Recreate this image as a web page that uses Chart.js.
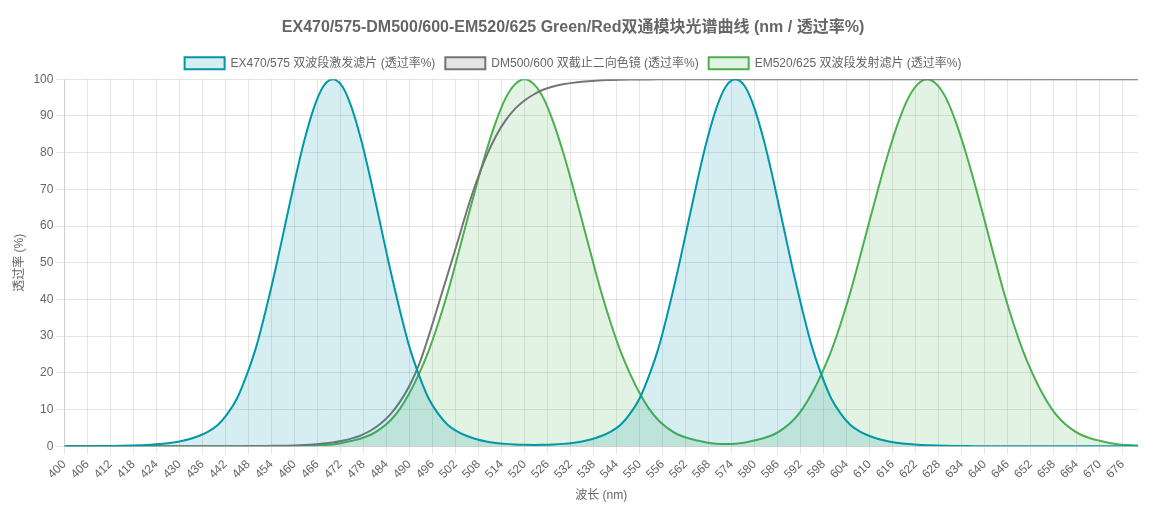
<!DOCTYPE html>
<html>
<head>
<meta charset="utf-8">
<script src="https://cdn.jsdelivr.net/npm/chart.js@4.4.1/dist/chart.umd.min.js"></script>
<style>
html,body{margin:0;padding:0;background:#fff;}
#wrap{width:1158px;height:520px;}
</style>
</head>
<body>
<div id="wrap"><canvas id="c" width="1158" height="520"></canvas></div>
<script>
// Wavelengths (nm)
const wavelengths = [
  400,402.5,405,407.5,410,412.5,415,417.5,420,422.5,
  425,427.5,430,432.5,435,437.5,440,442.5,445,447.5,
  450,452.5,455,457.5,460,462.5,465,467.5,470,472.5,
  475,477.5,480,482.5,485,487.5,490,492.5,495,497.5,
  500,502.5,505,507.5,510,512.5,515,517.5,520,522.5,
  525,527.5,530,532.5,535,537.5,540,542.5,545,547.5,
  550,552.5,555,557.5,560,562.5,565,567.5,570,572.5,
  575,577.5,580,582.5,585,587.5,590,592.5,595,597.5,
  600,602.5,605,607.5,610,612.5,615,617.5,620,622.5,
  625,627.5,630,632.5,635,637.5,640,642.5,645,647.5,
  650,652.5,655,657.5,660,662.5,665,667.5,670,672.5,
  675,677.5,680
];

// EX470/575 excitation filter transmission (%)
const exValues = [
  0,0.01,0.02,0.03,0.05,0.08,0.12,0.18,0.28,0.41,
  0.6,0.88,1.3,1.9,2.8,4.0,5.8,8.8,13,19.3,
  27,37,48,60,72,83,92,98,100,98,
  92,83,72,60,48,37,27,19.3,13,8.8,
  5.8,4.0,2.8,1.9,1.3,0.91,0.65,0.49,0.4,0.36,
  0.4,0.49,0.65,0.91,1.32,1.91,2.8,4.0,5.8,8.8,
  13,19.3,27,37,48,60,72,83,92,98,
  100,98,92,83,72,60,48,37,27,19.3,
  13,8.8,5.8,4.0,2.8,1.9,1.3,0.88,0.6,0.41,
  0.28,0.18,0.12,0.08,0.05,0.03,0.02,0.01,0,0,
  0,0,0,0,0,0,0,0,0,0,
  0,0,0
];

// DM500/600 dichroic transmission (%)
const dmValues = [
  0,0,0,0,0,0,0,0,0,0,
  0,0,0,0,0,0,0.01,0.02,0.03,0.04,
  0.06,0.08,0.12,0.17,0.24,0.35,0.5,0.72,1.03,1.49,
  2.14,3.05,4.36,6.2,8.7,12.1,16.5,22.3,30,38.5,
  47,55.5,64.3,72.2,78.9,84.4,88.7,91.9,94.2,95.9,
  97.2,98.0,98.6,99.0,99.3,99.5,99.7,99.78,99.85,99.9,
  99.93,99.95,99.97,99.98,100,100,100,100,100,100,
  100,100,100,100,100,100,100,100,100,100,
  100,100,100,100,100,100,100,100,100,100,
  100,100,100,100,100,100,100,100,100,100,
  100,100,100,100,100,100,100,100,100,100,
  100,100,100
];

// EM520/625 emission filter transmission (%)
const emValues = [
  0,0,0,0,0,0,0,0,0,0,
  0,0,0,0,0,0,0,0,0,0,
  0.01,0.02,0.03,0.05,0.08,0.12,0.2,0.32,0.5,0.9,
  1.5,2.2,3.2,4.8,7,10.2,14.5,19.8,26,33.5,
  42,51.6,61.5,71.2,80.3,88.3,94.7,98.6,100,98.6,
  94.7,88.3,80.3,71.2,61.5,51.6,42,33.5,26,19.8,
  14.5,10.2,7.0,4.8,3.2,2.25,1.58,1.02,0.7,0.64,
  0.7,1.02,1.58,2.25,3.2,4.8,7.0,10.2,14.5,19.8,
  26,33.5,42,51.6,61.5,71.2,80.3,88.3,94.7,98.6,
  100,98.6,94.7,88.3,80.3,71.2,61.5,51.6,42,33.5,
  26,19.8,14.5,10.2,7,4.8,3.2,2.2,1.5,0.9,
  0.5,0.32,0.2
];

// X tick labels (nm)
const xTickLabels = [400,406,412,418,424,430,436,442,448,454,460,466,472,478,484,490,496,502,508,514,520,526,532,538,544,550,556,562,568,574,580,586,592,598,604,610,616,622,628,634,640,646,652,658,664,670,676];

const seriesNames = ['EX470/575 双波段激发滤片 (透过率%)','DM500/600 双截止二向色镜 (透过率%)','EM520/625 双波段发射滤片 (透过率%)'];

const toPoints = vals => wavelengths.map((w,i)=>({x:w,y:vals[i]}));

Chart.defaults.font.family = "'Helvetica Neue', Helvetica, Arial, 'Liberation Sans', 'Noto Sans CJK SC', sans-serif";
Chart.defaults.color = '#666';

const common = {borderWidth: 2, pointRadius: 0, cubicInterpolationMode: 'monotone'};

new Chart(document.getElementById('c'), {
  type: 'line',
  data: {
    datasets: [
      Object.assign({label: seriesNames[0], data: toPoints(exValues), borderColor: '#0097a7', backgroundColor: 'rgba(0,151,167,0.16)', fill: 'origin'}, common),
      Object.assign({label: seriesNames[1], data: toPoints(dmValues), borderColor: '#757575', backgroundColor: 'rgba(117,117,117,0.2)', fill: false}, common),
      Object.assign({label: seriesNames[2], data: toPoints(emValues), borderColor: '#4caf50', backgroundColor: 'rgba(76,175,80,0.16)', fill: 'origin'}, common)
    ]
  },
  options: {
    responsive: false,
    animation: false,
    layout: {padding: {top: 8, left: 8, right: 20, bottom: 13}},
    plugins: {
      title: {display: true, text: 'EX470/575-DM500/600-EM520/625 Green/Red双通模块光谱曲线 (nm / 透过率%)', font: {size: 16, weight: 'bold'}, color: '#666', padding: {top: 10, bottom: 10}},
      legend: {labels: {boxWidth: 40, boxHeight: 12, font: {size: 12}, color: '#666'}},
      tooltip: {enabled: false}
    },
    scales: {
      x: {
        type: 'linear', min: 400, max: 680,
        title: {display: true, text: '波长 (nm)', font: {size: 12}, color: '#666'},
        afterBuildTicks: scale => { scale.ticks = xTickLabels.map(v => ({value: v})); },
        ticks: {autoSkip: false, minRotation: 45, maxRotation: 45, font: {size: 12}, color: '#666', callback: v => String(v)}
      },
      y: {
        min: 0, max: 100,
        title: {display: true, text: '透过率 (%)', font: {size: 12}, color: '#666'},
        ticks: {stepSize: 10, font: {size: 12}, color: '#666'}
      }
    }
  }
});
</script>
</body>
</html>
